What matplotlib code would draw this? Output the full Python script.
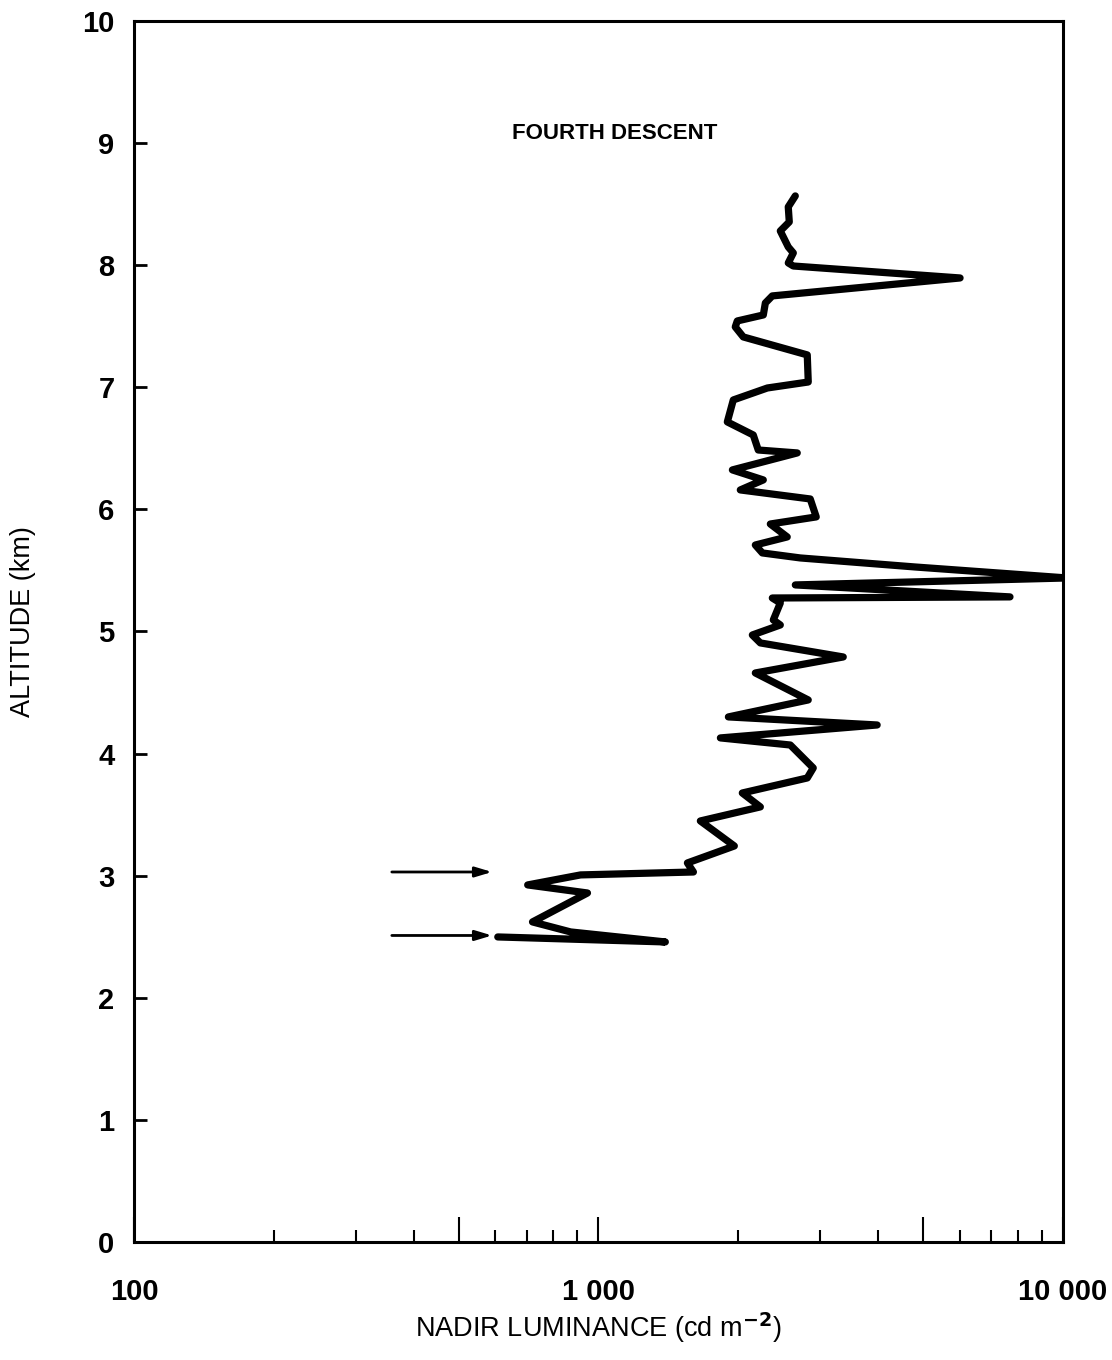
import matplotlib.pyplot as plt
from matplotlib.ticker import FixedLocator, NullFormatter

plt.rcParams['font.family'] = ['Liberation Sans', 'DejaVu Sans']

# nadir luminance (cd m-2) and altitude (km), read top to bottom along the trace
luminance = [2653, 2562, 2575, 2463, 2562, 2627, 2562, 2627, 6005, 2367,
             2287, 2264, 1990, 1970, 2050, 2815, 2829, 2310, 1951, 1894,
             2154, 2208, 2679, 1942, 2264, 2020, 2857, 2943, 2344, 2549,
             2176, 2253, 2719, 4805, 10200, 2653, 7691, 2367, 2463, 2379,
             2463, 2144, 2231, 3365, 2176, 2829, 1904, 3981, 1830, 2588,
             2900, 2815, 2040, 2231, 1657, 1961, 1554, 1601, 915, 704,
             947, 721, 871, 1393, 607]
altitude = [8.567, 8.477, 8.354, 8.280, 8.149, 8.100, 8.018, 7.993, 7.895, 7.748,
            7.690, 7.592, 7.543, 7.494, 7.412, 7.265, 7.043, 6.994, 6.896, 6.716,
            6.609, 6.486, 6.462, 6.323, 6.241, 6.159, 6.085, 5.938, 5.880, 5.774,
            5.708, 5.643, 5.602, 5.528, 5.438, 5.381, 5.283, 5.274, 5.233, 5.094,
            5.053, 4.971, 4.906, 4.791, 4.660, 4.439, 4.300, 4.234, 4.128, 4.070,
            3.882, 3.800, 3.677, 3.563, 3.448, 3.243, 3.104, 3.030, 3.006, 2.924,
            2.858, 2.621, 2.539, 2.457, 2.498]

# arrows marking the two cloud layers
arrow_alt = [3.03, 2.51]
arrow_from = 359
arrow_to = 590

y_ticks = list(range(0, 11))
x_major = [100, 500, 1000, 5000, 10000]
x_major_labels = ['100', '', '1 000', '', '10 000']
x_minor = [200, 300, 400, 600, 700, 800, 900, 2000, 3000, 4000, 6000, 7000, 8000, 9000]

fig = plt.figure(figsize=(11.12, 13.6), dpi=100)
ax = fig.add_axes([0.1205, 0.0868, 0.8354, 0.8978])

ax.plot(luminance, altitude, color='black', lw=5.2, solid_joinstyle='round',
        solid_capstyle='round')

for a in arrow_alt:
    ax.annotate('', xy=(arrow_to, a), xytext=(arrow_from, a),
                arrowprops=dict(arrowstyle='-|>,head_length=1.0,head_width=0.3',
                                color='black', lw=2, shrinkA=0, shrinkB=0))

ax.set_xscale('log')
ax.set_xlim(100, 10000)
ax.set_ylim(0, 10)

ax.xaxis.set_major_locator(FixedLocator(x_major))
ax.set_xticklabels(x_major_labels)
ax.xaxis.set_minor_locator(FixedLocator(x_minor))
ax.xaxis.set_minor_formatter(NullFormatter())
ax.set_yticks(y_ticks)

ax.tick_params(axis='x', which='major', direction='in', length=18, width=1.5,
               pad=26, labelsize=21)
ax.tick_params(axis='x', which='minor', direction='in', length=9, width=1.5)
ax.tick_params(axis='y', which='major', direction='in', length=9, width=2,
               pad=14, labelsize=21)
for lab in ax.get_xticklabels() + ax.get_yticklabels():
    lab.set_fontweight('bold')

for s in ax.spines.values():
    s.set_linewidth(2.2)

ax.set_xlabel('NADIR LUMINANCE (cd m$^{\\mathbf{-2}}$)', fontsize=19.5, va='center')
ax.xaxis.set_label_coords(0.5, -0.0704)
ax.set_ylabel('ALTITUDE (km)', fontsize=19.5, va='center')
ax.yaxis.set_label_coords(-0.1195, 0.508)

ax.text(0.517, 0.908, 'FOURTH DESCENT', transform=ax.transAxes, ha='center',
        va='center', fontsize=16, fontweight='bold')

fig.savefig('out.png', dpi=100)
